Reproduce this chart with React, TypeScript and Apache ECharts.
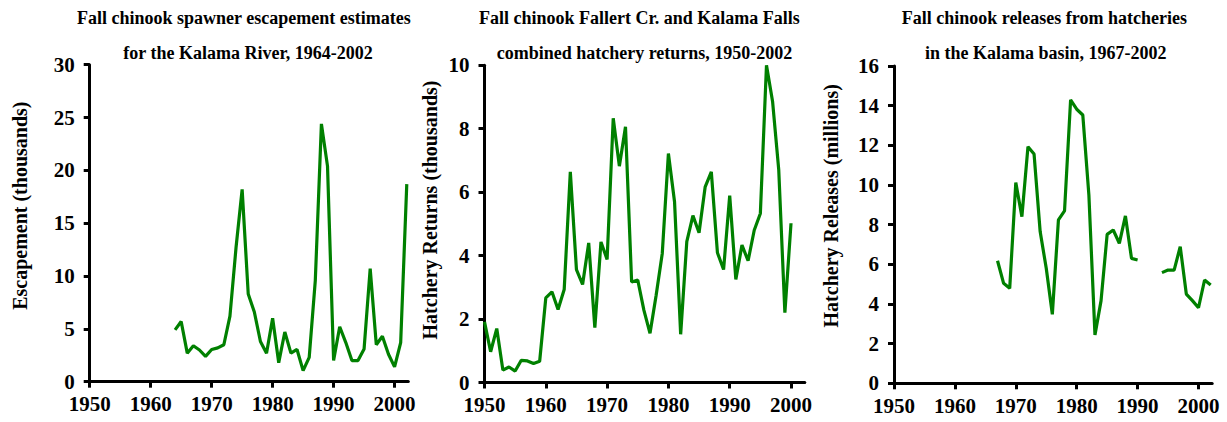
import React, { useEffect, useRef } from "react";
import * as echarts from "echarts";

// Panel 1: spawner escapement (thousands), Kalama River
const escYears = [1964, 1965, 1966, 1967, 1968, 1969, 1970, 1971, 1972, 1973, 1974, 1975, 1976, 1977, 1978, 1979, 1980, 1981, 1982, 1983, 1984, 1985, 1986, 1987, 1988, 1989, 1990, 1991, 1992, 1993, 1994, 1995, 1996, 1997, 1998, 1999, 2000, 2001, 2002];
const escValues = [4.9, 5.7, 2.7, 3.4, 3.0, 2.4, 3.05, 3.2, 3.5, 6.2, 12.7, 18.2, 8.3, 6.6, 3.8, 2.7, 6.0, 1.8, 4.7, 2.7, 3.05, 1.05, 2.3, 9.6, 24.4, 20.4, 2.0, 5.2, 3.7, 2.0, 2.0, 3.1, 10.7, 3.5, 4.3, 2.6, 1.4, 3.7, 18.7];

// Panel 2: hatchery returns (thousands)
const retYears = [1950, 1951, 1952, 1953, 1954, 1955, 1956, 1957, 1958, 1959, 1960, 1961, 1962, 1963, 1964, 1965, 1966, 1967, 1968, 1969, 1970, 1971, 1972, 1973, 1974, 1975, 1976, 1977, 1978, 1979, 1980, 1981, 1982, 1983, 1984, 1985, 1986, 1987, 1988, 1989, 1990, 1991, 1992, 1993, 1994, 1995, 1996, 1997, 1998, 1999, 2000];
const retValues = [1.91, 0.97, 1.7, 0.39, 0.49, 0.36, 0.7, 0.68, 0.6, 0.67, 2.67, 2.86, 2.3, 2.93, 6.64, 3.56, 3.09, 4.4, 1.73, 4.43, 3.88, 8.33, 6.82, 8.06, 3.17, 3.23, 2.28, 1.55, 2.75, 4.07, 7.22, 5.7, 1.52, 4.44, 5.26, 4.72, 6.17, 6.64, 4.09, 3.56, 5.89, 3.25, 4.33, 3.84, 4.8, 5.33, 10.0, 8.85, 6.7, 2.2, 5.02];

// Panel 3: hatchery releases (millions)
const relYears = [1967, 1968, 1969, 1970, 1971, 1972, 1973, 1974, 1975, 1976, 1977, 1978, 1979, 1980, 1981, 1982, 1983, 1984, 1985, 1986, 1987, 1988, 1989, 1990, 1991, 1992, 1993, 1994, 1995, 1996, 1997, 1998, 1999, 2000, 2001, 2002];
const relValues = [6.18, 5.04, 4.79, 10.12, 8.4, 11.93, 11.56, 7.65, 5.8, 3.48, 8.24, 8.69, 14.29, 13.82, 13.53, 9.5, 2.44, 4.17, 7.51, 7.73, 7.06, 8.44, 6.3, 6.22, null, null, null, 5.58, 5.71, 5.71, 6.89, 4.5, 4.17, 3.81, 5.21, 4.96];

const xTickLabels = [1950, 1960, 1970, 1980, 1990, 2000];

const titles = [
  ["Fall chinook spawner escapement estimates", "for the Kalama River, 1964-2002"],
  ["Fall chinook Fallert Cr. and Kalama Falls", "combined hatchery returns, 1950-2002"],
  ["Fall chinook releases from hatcheries", "in the Kalama basin, 1967-2002"],
];
const yTitles = ["Escapement (thousands)", "Hatchery Returns (thousands)", "Hatchery Releases (millions)"];

const FONT = '"Liberation Serif", "Times New Roman", serif';
const GREEN = "#008000";

export default function App() {
  const ref = useRef<HTMLDivElement>(null);
  useEffect(() => {
    if (!ref.current) return;
    const chart = echarts.init(ref.current, null, { renderer: "svg" });

    const grids = [
      { left: 89.7, top: 64.7, width: 318.6, height: 317 },
      { left: 484.5, top: 65.3, width: 320.3, height: 317.2 },
      { left: 894, top: 66, width: 318.2, height: 317.3 },
    ];
    const yMax = [30, 10, 16];
    const yInt = [5, 2, 2];

    const axisLine = { show: true, lineStyle: { color: "#000", width: 3 } };

    const xAxes = grids.map((_, i) => ({
      type: "value",
      gridIndex: i,
      min: 1950,
      max: 2002.25,
      interval: 10,
      axisLine,
      axisTick: { show: true, length: 6, lineStyle: { color: "#000", width: 3 }, customValues: xTickLabels },
      axisLabel: {
        customValues: xTickLabels,
        formatter: (v: number) => String(v),
        margin: 12,
        color: "#000",
        fontFamily: FONT,
        fontWeight: "bold",
        fontSize: 21,
      },
      splitLine: { show: false },
    }));

    const yAxes = grids.map((_, i) => ({
      type: "value",
      gridIndex: i,
      min: 0,
      max: yMax[i],
      interval: yInt[i],
      axisLine,
      axisTick: { show: true, length: 6, lineStyle: { color: "#000", width: 3 } },
      axisLabel: {
        margin: 15,
        color: "#000",
        fontFamily: FONT,
        fontWeight: "bold",
        fontSize: 21,
      },
      splitLine: { show: false },
    }));

    const mk = (ys: number[], vs: (number | null)[]) => ys.map((y, i) => [y, vs[i]]);
    const seriesData = [mk(escYears, escValues), mk(retYears, retValues), mk(relYears, relValues)];

    const series = seriesData.map((d, i) => ({
      type: "line",
      xAxisIndex: i,
      yAxisIndex: i,
      data: d,
      showSymbol: false,
      connectNulls: false,
      lineStyle: { color: GREEN, width: 3.2 },
      itemStyle: { color: GREEN },
    }));

    const titleLeft = [
      [77, 123.3],
      [479, 496.7],
      [901.7, 925],
    ];
    const graphic: any[] = [];
    titles.forEach((t, i) => {
      graphic.push({
        type: "text",
        x: titleLeft[i][0],
        y: 18,
        style: { text: t[0], font: `bold 18px ${FONT}`, fill: "#000", textAlign: "left", textVerticalAlign: "middle" },
      });
      graphic.push({
        type: "text",
        x: titleLeft[i][1],
        y: 53,
        style: { text: t[1], font: `bold 18px ${FONT}`, fill: "#000", textAlign: "left", textVerticalAlign: "middle" },
      });
    });
    const yTitlePos = [
      [20.2, 205.7],
      [430.2, 210],
      [830.7, 205.8],
    ];
    yTitles.forEach((t, i) => {
      graphic.push({
        type: "text",
        x: yTitlePos[i][0],
        y: yTitlePos[i][1],
        rotation: Math.PI / 2,
        style: { text: t, font: `bold 20px ${FONT}`, fill: "#000", textAlign: "center", textVerticalAlign: "middle" },
      });
    });

    chart.setOption({
      animation: false,
      backgroundColor: "#fff",
      grid: grids,
      xAxis: xAxes,
      yAxis: yAxes,
      series,
      graphic,
    });
    return () => chart.dispose();
  }, []);
  return <div ref={ref} style={{ position: "absolute", left: 0, top: 0, width: 1227, height: 422 }} />;
}
